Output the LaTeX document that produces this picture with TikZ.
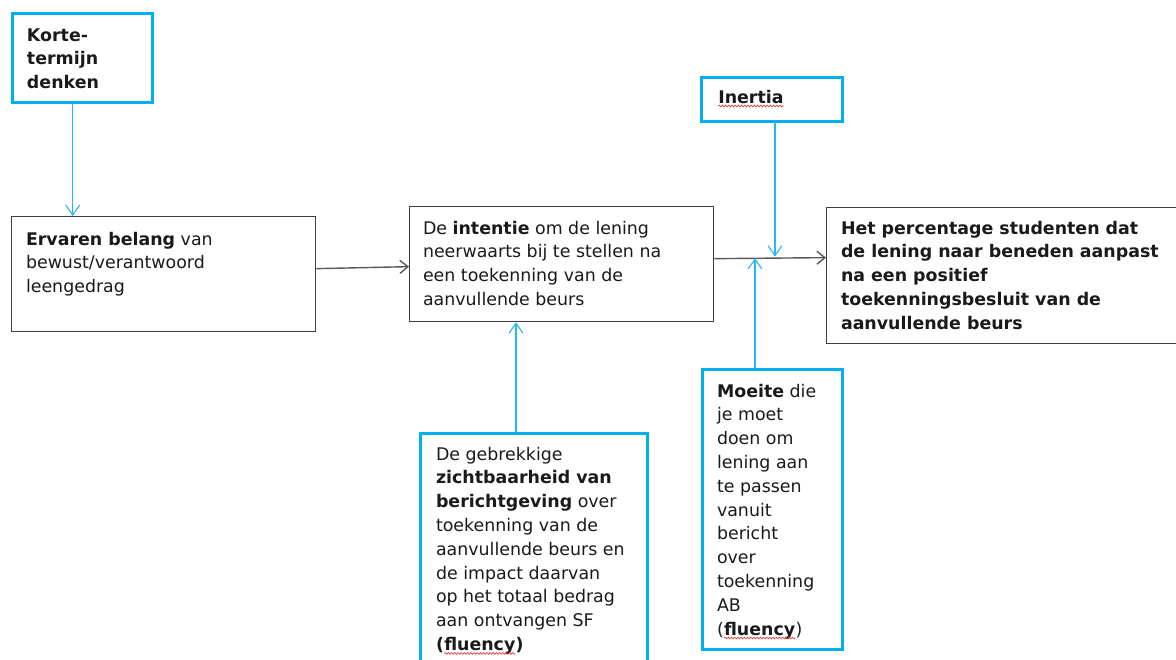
\documentclass[tikz,border=0pt]{standalone}
\usepackage{fontspec}
\setmainfont{DejaVu Sans}
\usetikzlibrary{arrows.meta,decorations.pathmorphing}
\definecolor{skyb}{HTML}{00B0F0}
\definecolor{linkb}{HTML}{29B6F6}
\definecolor{boxgray}{HTML}{3F3F3F}
\definecolor{arrgray}{HTML}{595959}
\definecolor{txt}{HTML}{1A1A1A}
\definecolor{spell}{HTML}{E03030}
\newcommand\wavy[1]{\tikz[baseline=(wv.base)]{\node[inner sep=0pt,outer sep=0pt,anchor=base west] (wv) at (0,0) {#1};
  \draw[spell, line width=0.6pt, decorate, decoration={snake,amplitude=0.9pt,segment length=3.2pt}]
    ([yshift=-3pt]wv.base west) -- ([yshift=-3pt]wv.base east);}}
\tikzset{
  plainbox/.style={draw=boxgray, line width=1.3pt, rectangle, inner sep=0pt, anchor=north west},
  bluebox/.style={draw=skyb, line width=3.4pt, rectangle, inner sep=0pt, anchor=north west},
  label text/.style={inner sep=0pt, outer sep=0pt, anchor=base west, align=left, text=txt,
    font=\fontsize{17.4}{23.8}\selectfont},
  grayarrow/.style={draw=arrgray, line width=1.4pt, -{Straight Barb[length=8pt,width=13pt]}},
  bluearrow/.style={draw=linkb, line width=1.1pt, -{Straight Barb[length=10pt,width=14pt]}},
}
\begin{document}
\begin{tikzpicture}[x=1pt,y=-1pt]
\useasboundingbox[fill=white] (0,0) rectangle (1176,659);
% boxes
\node[bluebox, minimum width=140, minimum height=89] (korte) at (11,12) {};
\node[plainbox, minimum width=304, minimum height=115] (ervaren) at (11,216) {};
\node[plainbox, minimum width=304, minimum height=115] (intentie) at (409,206) {};
\node[plainbox, minimum width=370, minimum height=136] (het) at (826,207) {};
\node[bluebox, minimum width=141, minimum height=44] (inertia) at (700,76) {};
\node[bluebox, minimum width=140, minimum height=280] (moeite) at (701,368) {};
\node[bluebox, minimum width=227, minimum height=240] (gebrek) at (419,432) {};
% texts (anchored at the baseline of their last line)
\node[label text] (tkorte) at (27,88.6) {\textbf{Korte-}\\\textbf{termijn}\\\textbf{denken}};
\node[label text] (tervaren) at (26,292.6) {\textbf{Ervaren belang} van\\bewust/verantwoord\\leengedrag};
\node[label text] (tintentie) at (423,305.4) {De \textbf{intentie} om de lening\\neerwaarts bij te stellen na\\een toekenning van de\\aanvullende beurs};
\node[label text, font=\fontsize{17.4}{23.8}\selectfont\bfseries] (thet) at (841,329.2) {Het percentage studenten dat\\de lening naar beneden aanpast\\na een positief\\toekenningsbesluit van de\\aanvullende beurs};
\node[label text] (tinertia) at (718,103) {\textbf{\wavy{Inertia}}};
\node[label text] (tmoeite) at (717,635) {\textbf{Moeite} die\\je moet\\doen om\\lening aan\\te passen\\vanuit\\bericht\\over\\toekenning\\AB\\(\textbf{\wavy{fluency}})};
\node[label text] (tgebrek) at (436,650.4) {De gebrekkige\\\textbf{zichtbaarheid van}\\\textbf{berichtgeving} over\\toekenning van de\\aanvullende beurs en\\de impact daarvan\\op het totaal bedrag\\aan ontvangen SF\\\textbf{(\wavy{fluency})}};
% connector end points on the main line
\coordinate (jin) at (775,256.6);
\coordinate (jmo) at (755,258.2);
% connectors
\draw[bluearrow] ([xshift=-10pt]korte.south) -- ([xshift=-10pt]korte.south |- ervaren.north);
\draw[grayarrow] ([yshift=5.5pt]ervaren.east) -- ([yshift=-2.5pt]intentie.west);
\draw[grayarrow] ([yshift=5.5pt]intentie.east) -- ([yshift=18pt]het.west);
\draw[bluearrow] (inertia.south -| jin) -- (jin);
\draw[bluearrow] (moeite.north -| jmo) -- (jmo);
\draw[bluearrow] (gebrek.north -| 516,0) -- (intentie.south -| 516,0);
\end{tikzpicture}
\end{document}
